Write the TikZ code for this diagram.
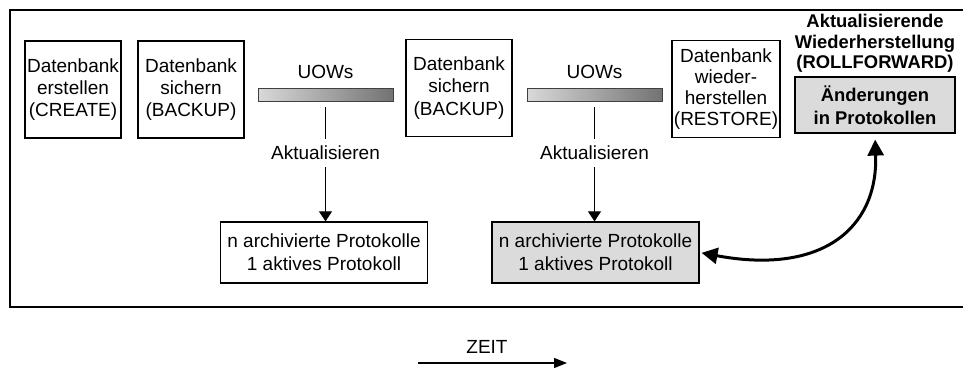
\documentclass[tikz,border=0pt]{standalone}
\usepackage{fontspec}
\setmainfont{Liberation Sans}
\usetikzlibrary{arrows.meta,positioning}

\begin{document}
\begin{tikzpicture}[x=0.5pt, y=0.5pt, font=\fontsize{9.5}{11.2}\selectfont,
  opbox/.style={draw, line width=0.6pt, align=center, inner sep=1pt, minimum height=48.5pt},
  logbox/.style={draw, line width=0.6pt, align=center, minimum width=102pt, minimum height=30.5pt, font=\fontsize{9.5}{11.5}\selectfont},
  uowbar/.style={draw=black!75, line width=0.5pt, left color=black!15, right color=black!55, minimum width=67.5pt, minimum height=6.5pt, inner sep=0pt},
  update/.style={-{Triangle[length=5pt,width=6.5pt]}, line width=0.5pt},
  rollarrow/.style={{Triangle[length=8pt,width=8pt]}-{Triangle[length=8pt,width=8pt]}, line width=1.5pt}]
\useasboundingbox (0,0) rectangle (963,368);
\draw [line width=0.8pt] (963,358) -- (10,358) -- (10,61) -- (963,61);
\node [opbox, minimum width=48pt] (create) at (73,278.5) {Datenbank\\erstellen\\(CREATE)};
\node [opbox, minimum width=53pt] (backup1) at (191,278.5) {Datenbank\\sichern\\(BACKUP)};
\node [uowbar] (bar1) at (325.5,272.5) {};
\node (uow1) at (325.5,296) {UOWs};
\node (upd1) at (325.5,215) {Aktualisieren};
\node [logbox] (arch1) at (324,115.5) {n archivierte Protokolle\\1 aktives Protokoll};
\node [opbox, minimum width=53pt] (backup2) at (459,280) {Datenbank\\sichern\\(BACKUP)};
\node [uowbar] (bar2) at (594.5,272.5) {};
\node (uow2) at (594.5,296) {UOWs};
\node (upd2) at (594.5,215) {Aktualisieren};
\node [logbox, fill=black!14, minimum width=103.5pt] (arch2) at (595.5,115.5) {n archivierte Protokolle\\1 aktives Protokoll};
\node [opbox, minimum width=52pt, font=\fontsize{9.5}{10.4}\selectfont] (restore) at (726,279) {Datenbank\\wieder-\\herstellen\\(RESTORE)};
\node [draw, line width=0.6pt, fill=black!14, minimum width=80pt, minimum height=28pt, align=center, font=\bfseries\fontsize{9.2}{11.5}\selectfont] (chg) at (875,263) {Änderungen\\in Protokollen};
\node [above=-1.5pt of chg, align=center, font=\bfseries\fontsize{9.2}{10.2}\selectfont] (rollfwd) {Aktualisierende\\Wiederherstellung\\(ROLLFORWARD)};
\draw [line width=0.5pt, shorten <=2.5pt] (bar1) -- (upd1);
\draw [update] (upd1) -- (upd1 |- arch1.north);
\draw [line width=0.5pt, shorten <=2.5pt] (bar2) -- (upd2);
\draw [update] (upd2) -- (upd2 |- arch2.north);
\draw [rollarrow, shorten <=1pt, shorten >=3pt] (arch2.east) .. controls (820,93) and (878,138) .. (chg.south);
\node (time) at (487,21) {ZEIT};
\coordinate (t0) at (418,5);
\coordinate (t1) at (567,5);
\draw [-{Triangle[length=6.5pt,width=5pt]}, line width=0.6pt] (t0) -- (t1);
\end{tikzpicture}
\end{document}
